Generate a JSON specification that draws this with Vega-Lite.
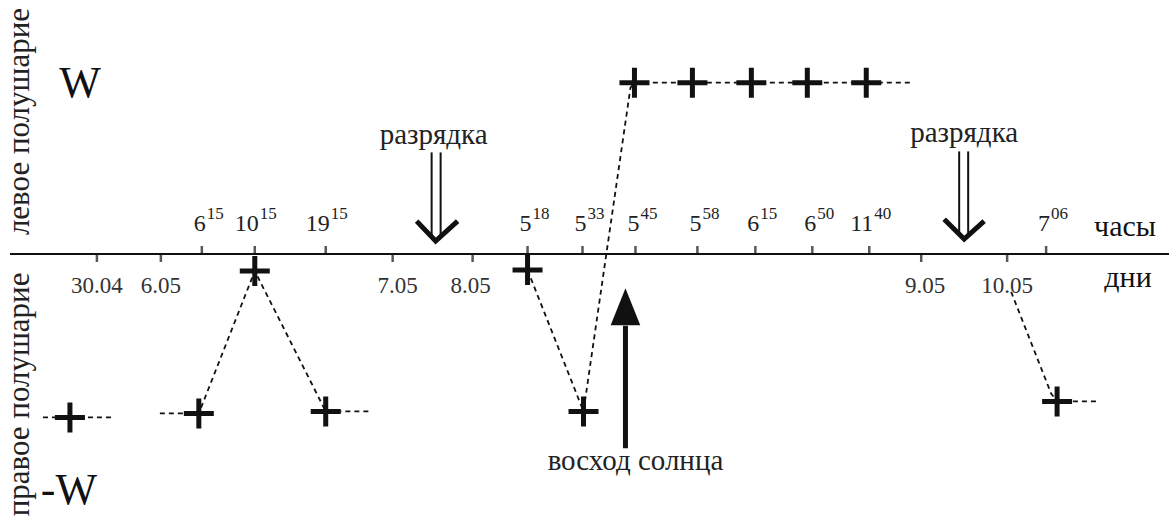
{
  "$schema": "https://vega.github.io/schema/vega-lite/v6.json",
  "width": 1170,
  "height": 516,
  "padding": 0,
  "autosize": {"type": "fit", "contains": "padding"},
  "background": "white",
  "config": {"view": {"stroke": null}},
  "datasets": {
    "hours": [
      {"x": 202, "base": "6", "sup": "15"},
      {"x": 255, "base": "10", "sup": "15"},
      {"x": 326, "base": "19", "sup": "15"},
      {"x": 528, "base": "5", "sup": "18"},
      {"x": 583, "base": "5", "sup": "33"},
      {"x": 636, "base": "5", "sup": "45"},
      {"x": 698, "base": "5", "sup": "58"},
      {"x": 756, "base": "6", "sup": "15"},
      {"x": 813, "base": "6", "sup": "50"},
      {"x": 870, "base": "11", "sup": "40"},
      {"x": 1047, "base": "7", "sup": "06"}
    ],
    "days": [
      {"x": 97, "label": "30.04"},
      {"x": 161, "label": "6.05"},
      {"x": 398, "label": "7.05"},
      {"x": 471, "label": "8.05"},
      {"x": 926, "label": "9.05"},
      {"x": 1008, "label": "10.05"}
    ],
    "dayTicks": [
      {"x": 97},
      {"x": 161},
      {"x": 393},
      {"x": 473},
      {"x": 922},
      {"x": 1008}
    ],
    "crosses": [
      {"x": 70, "y": -164},
      {"x": 199, "y": -160},
      {"x": 255, "y": -17},
      {"x": 326, "y": -158},
      {"x": 528, "y": -16},
      {"x": 584, "y": -158},
      {"x": 635, "y": 172},
      {"x": 693, "y": 172},
      {"x": 752, "y": 172},
      {"x": 808, "y": 172},
      {"x": 867, "y": 172},
      {"x": 1058, "y": -148}
    ],
    "lines": [
      {"seg": "a", "i": 1, "x": 43, "y": -164},
      {"seg": "a", "i": 2, "x": 115, "y": -164},
      {"seg": "b", "i": 1, "x": 160, "y": -160},
      {"seg": "b", "i": 2, "x": 199, "y": -160},
      {"seg": "b", "i": 3, "x": 255, "y": -17},
      {"seg": "b", "i": 4, "x": 326, "y": -158},
      {"seg": "b", "i": 5, "x": 370, "y": -158},
      {"seg": "c", "i": 1, "x": 528, "y": -16},
      {"seg": "c", "i": 2, "x": 584, "y": -158},
      {"seg": "c", "i": 3, "x": 631, "y": 167},
      {"seg": "c", "i": 4, "x": 635, "y": 172},
      {"seg": "c", "i": 5, "x": 693, "y": 172},
      {"seg": "c", "i": 6, "x": 752, "y": 172},
      {"seg": "c", "i": 7, "x": 808, "y": 172},
      {"seg": "c", "i": 8, "x": 867, "y": 172},
      {"seg": "c", "i": 9, "x": 912, "y": 172},
      {"seg": "d", "i": 1, "x": 1012, "y": -38},
      {"seg": "d", "i": 2, "x": 1052, "y": -140},
      {"seg": "d", "i": 3, "x": 1058, "y": -148},
      {"seg": "d", "i": 4, "x": 1100, "y": -148}
    ],
    "shafts": [
      {"x": 432, "y": 102, "y2": 18},
      {"x": 441, "y": 102, "y2": 18},
      {"x": 960, "y": 103, "y2": 20},
      {"x": 969, "y": 103, "y2": 20}
    ],
    "chevrons": [
      {"arrow": "1", "i": 1, "x": 417, "y": 33},
      {"arrow": "1", "i": 2, "x": 436, "y": 13},
      {"arrow": "1", "i": 3, "x": 458, "y": 33},
      {"arrow": "2", "i": 1, "x": 945, "y": 35},
      {"arrow": "2", "i": 2, "x": 965, "y": 15},
      {"arrow": "2", "i": 3, "x": 985, "y": 33}
    ],
    "sunrise": [
      {"x": 626, "y": -195, "y2": -72}
    ],
    "sunriseHead": [
      {"x": 626, "y": -53}
    ],
    "bigText": [
      {"x": 80, "y": 158, "text": "W"},
      {"x": 69, "y": -251, "text": "-W"}
    ],
    "unitText": [
      {"x": 1126, "y": 18, "text": "часы"},
      {"x": 1129, "y": -33, "text": "дни"}
    ],
    "noteText": [
      {"x": 434, "y": 110, "text": "разрядка"},
      {"x": 965, "y": 112, "text": "разрядка"},
      {"x": 636, "y": -217, "text": "восход солнца"}
    ],
    "sideText": [
      {"x": 20, "y": 133, "text": "левое полушарие"},
      {"x": 20, "y": -141, "text": "правое полушарие"}
    ]
  },
  "layer": [
    {
      "data": {"values": [{"x": 10, "x2": 1170, "y": 0}]},
      "mark": {"type": "rule", "color": "#111", "strokeWidth": 2},
      "encoding": {
        "x": {"field": "x", "type": "quantitative", "scale": {"domain": [0, 1170], "nice": false, "zero": false}, "axis": null},
        "x2": {"field": "x2"},
        "y": {"field": "y", "type": "quantitative", "scale": {"domain": [-261, 255], "nice": false, "zero": false}, "axis": null}
      }
    },
    {
      "data": {"name": "hours"},
      "mark": {"type": "tick", "orient": "vertical", "color": "#111", "size": 8, "thickness": 2.5},
      "encoding": {
        "x": {"field": "x", "type": "quantitative", "scale": {"domain": [0, 1170], "nice": false, "zero": false}, "axis": null},
        "y": {"datum": 4, "type": "quantitative", "scale": {"domain": [-261, 255], "nice": false, "zero": false}, "axis": null}
      }
    },
    {
      "data": {"name": "dayTicks"},
      "mark": {"type": "tick", "orient": "vertical", "color": "#111", "size": 8, "thickness": 2.5},
      "encoding": {
        "x": {"field": "x", "type": "quantitative", "scale": {"domain": [0, 1170], "nice": false, "zero": false}, "axis": null},
        "y": {"datum": -4, "type": "quantitative", "scale": {"domain": [-261, 255], "nice": false, "zero": false}, "axis": null}
      }
    },
    {
      "data": {"name": "hours"},
      "mark": {"type": "text", "align": "right", "baseline": "alphabetic", "dx": 4, "font": "Liberation Serif, serif", "fontSize": 24, "color": "#222"},
      "encoding": {
        "x": {"field": "x", "type": "quantitative", "scale": {"domain": [0, 1170], "nice": false, "zero": false}, "axis": null},
        "y": {"datum": 23, "type": "quantitative", "scale": {"domain": [-261, 255], "nice": false, "zero": false}, "axis": null},
        "text": {"field": "base"}
      }
    },
    {
      "data": {"name": "hours"},
      "mark": {"type": "text", "align": "left", "baseline": "alphabetic", "dx": 5, "font": "Liberation Serif, serif", "fontSize": 17, "color": "#222"},
      "encoding": {
        "x": {"field": "x", "type": "quantitative", "scale": {"domain": [0, 1170], "nice": false, "zero": false}, "axis": null},
        "y": {"datum": 35, "type": "quantitative", "scale": {"domain": [-261, 255], "nice": false, "zero": false}, "axis": null},
        "text": {"field": "sup"}
      }
    },
    {
      "data": {"name": "days"},
      "mark": {"type": "text", "align": "center", "baseline": "alphabetic", "font": "Liberation Serif, serif", "fontSize": 23, "color": "#333"},
      "encoding": {
        "x": {"field": "x", "type": "quantitative", "scale": {"domain": [0, 1170], "nice": false, "zero": false}, "axis": null},
        "y": {"datum": -39, "type": "quantitative", "scale": {"domain": [-261, 255], "nice": false, "zero": false}, "axis": null},
        "text": {"field": "label"}
      }
    },
    {
      "data": {"name": "lines"},
      "mark": {"type": "line", "color": "#111", "strokeWidth": 1.8, "strokeDash": [5, 4]},
      "encoding": {
        "x": {"field": "x", "type": "quantitative", "scale": {"domain": [0, 1170], "nice": false, "zero": false}, "axis": null},
        "y": {"field": "y", "type": "quantitative", "scale": {"domain": [-261, 255], "nice": false, "zero": false}, "axis": null},
        "detail": {"field": "seg"},
        "order": {"field": "i", "type": "quantitative"}
      }
    },
    {
      "data": {"name": "crosses"},
      "mark": {"type": "point", "shape": "M-1,0H1M0,-1V1", "filled": false, "stroke": "#111", "strokeWidth": 5, "size": 900, "opacity": 1},
      "encoding": {
        "x": {"field": "x", "type": "quantitative", "scale": {"domain": [0, 1170], "nice": false, "zero": false}, "axis": null},
        "y": {"field": "y", "type": "quantitative", "scale": {"domain": [-261, 255], "nice": false, "zero": false}, "axis": null}
      }
    },
    {
      "data": {"name": "shafts"},
      "mark": {"type": "rule", "color": "#111", "strokeWidth": 2},
      "encoding": {
        "x": {"field": "x", "type": "quantitative", "scale": {"domain": [0, 1170], "nice": false, "zero": false}, "axis": null},
        "y": {"field": "y", "type": "quantitative", "scale": {"domain": [-261, 255], "nice": false, "zero": false}, "axis": null},
        "y2": {"field": "y2"}
      }
    },
    {
      "data": {"name": "chevrons"},
      "mark": {"type": "line", "color": "#111", "strokeWidth": 5, "strokeJoin": "miter"},
      "encoding": {
        "x": {"field": "x", "type": "quantitative", "scale": {"domain": [0, 1170], "nice": false, "zero": false}, "axis": null},
        "y": {"field": "y", "type": "quantitative", "scale": {"domain": [-261, 255], "nice": false, "zero": false}, "axis": null},
        "detail": {"field": "arrow"},
        "order": {"field": "i", "type": "quantitative"}
      }
    },
    {
      "data": {"name": "sunrise"},
      "mark": {"type": "rule", "color": "#111", "strokeWidth": 5},
      "encoding": {
        "x": {"field": "x", "type": "quantitative", "scale": {"domain": [0, 1170], "nice": false, "zero": false}, "axis": null},
        "y": {"field": "y", "type": "quantitative", "scale": {"domain": [-261, 255], "nice": false, "zero": false}, "axis": null},
        "y2": {"field": "y2"}
      }
    },
    {
      "data": {"name": "sunriseHead"},
      "mark": {"type": "point", "shape": "M0,-1L0.8,1L-0.8,1Z", "filled": true, "color": "#111", "size": 1369, "opacity": 1},
      "encoding": {
        "x": {"field": "x", "type": "quantitative", "scale": {"domain": [0, 1170], "nice": false, "zero": false}, "axis": null},
        "y": {"field": "y", "type": "quantitative", "scale": {"domain": [-261, 255], "nice": false, "zero": false}, "axis": null}
      }
    },
    {
      "data": {"name": "bigText"},
      "mark": {"type": "text", "align": "center", "baseline": "alphabetic", "font": "Liberation Serif, serif", "fontSize": 44, "color": "#111"},
      "encoding": {
        "x": {"field": "x", "type": "quantitative", "scale": {"domain": [0, 1170], "nice": false, "zero": false}, "axis": null},
        "y": {"field": "y", "type": "quantitative", "scale": {"domain": [-261, 255], "nice": false, "zero": false}, "axis": null},
        "text": {"field": "text"}
      }
    },
    {
      "data": {"name": "unitText"},
      "mark": {"type": "text", "align": "center", "baseline": "alphabetic", "font": "Liberation Serif, serif", "fontSize": 30, "color": "#111"},
      "encoding": {
        "x": {"field": "x", "type": "quantitative", "scale": {"domain": [0, 1170], "nice": false, "zero": false}, "axis": null},
        "y": {"field": "y", "type": "quantitative", "scale": {"domain": [-261, 255], "nice": false, "zero": false}, "axis": null},
        "text": {"field": "text"}
      }
    },
    {
      "data": {"name": "noteText"},
      "mark": {"type": "text", "align": "center", "baseline": "alphabetic", "font": "Liberation Serif, serif", "fontSize": 29, "color": "#222"},
      "encoding": {
        "x": {"field": "x", "type": "quantitative", "scale": {"domain": [0, 1170], "nice": false, "zero": false}, "axis": null},
        "y": {"field": "y", "type": "quantitative", "scale": {"domain": [-261, 255], "nice": false, "zero": false}, "axis": null},
        "text": {"field": "text"}
      }
    },
    {
      "data": {"name": "sideText"},
      "mark": {"type": "text", "align": "center", "baseline": "middle", "angle": 270, "font": "Liberation Serif, serif", "fontSize": 31, "color": "#222"},
      "encoding": {
        "x": {"field": "x", "type": "quantitative", "scale": {"domain": [0, 1170], "nice": false, "zero": false}, "axis": null},
        "y": {"field": "y", "type": "quantitative", "scale": {"domain": [-261, 255], "nice": false, "zero": false}, "axis": null},
        "text": {"field": "text"}
      }
    }
  ]
}
